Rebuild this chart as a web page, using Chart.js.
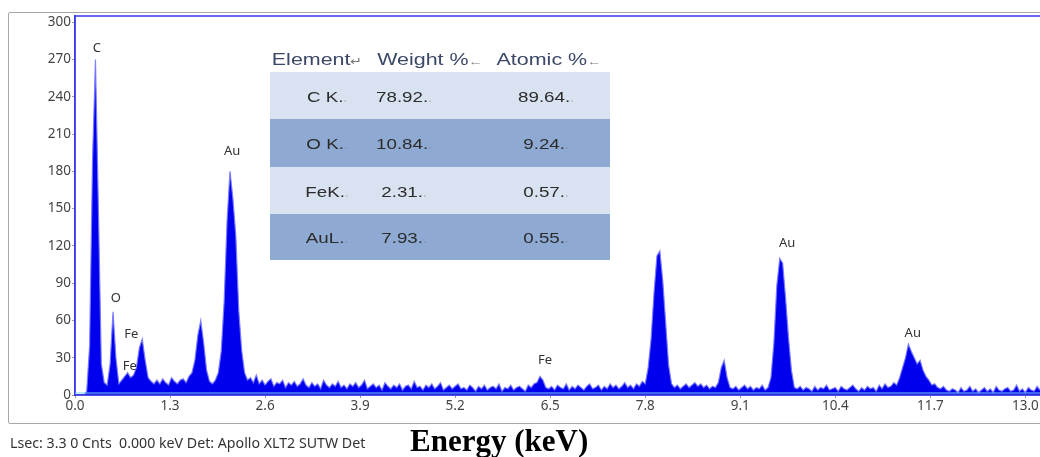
<!DOCTYPE html>
<html>
<head>
<meta charset="utf-8">
<script src="https://cdn.jsdelivr.net/npm/chart.js@4.4.1/dist/chart.umd.min.js"></script>
<style>
  body { margin: 0; background: #fff; width: 1040px; height: 457px; overflow: hidden; position: relative; }
  #frame { position: absolute; left: 8px; top: 12px; width: 1100px; height: 410px; border: 1px solid #a8a8a8; border-radius: 2px; }
  #spectrum { position: absolute; left: 0; top: 0; }
  .head { position: absolute; top: 50px; height: 22px; line-height: 22px; font: 16.5px "Liberation Sans", Arial, sans-serif; color: #3b4868; white-space: nowrap; transform: translateX(-50%) scaleX(1.3); }
  .row { position: absolute; left: 270px; width: 340px; }
  .cell { position: absolute; top: 50%; font: 15px "Liberation Sans", Arial, sans-serif; color: #2b2b2b; white-space: nowrap; transform: translate(-50%, -50%) scaleX(1.25); }
  .mark { font-size: 9px; color: #777; }
  .hmark { font-size: 11px; color: #777; }
  #status { position: absolute; left: 10px; top: 433px; font: 14.2px "Noto Sans", sans-serif; color: #333; white-space: pre; }
  #axisTitle { position: absolute; left: 410px; top: 423px; font: bold 31px "Liberation Serif", "Times New Roman", serif; color: #000; white-space: nowrap; }
</style>
</head>
<body>
<div id="frame"></div>
<canvas id="spectrum" width="1040" height="457"></canvas>
<div id="table"></div>
<div id="status">Lsec: 3.3 0 Cnts  0.000 keV Det: Apollo XLT2 SUTW Det</div>
<div id="axisTitle">Energy (keV)</div>
<script>
// EDS spectrum, one count value per 0.04 keV channel starting at 0 keV
const ENERGY_STEP_KEV = 0.04;
const COUNTS = [
  0, 0, 0, 0, 3, 40, 190, 270, 150, 25,
  10, 8, 25, 67, 30, 9, 12, 15, 18, 14,
  16, 22, 38, 45, 28, 14, 11, 9, 12, 9,
  13, 10, 8, 14, 11, 9, 12, 13, 10, 15,
  18, 28, 48, 60, 42, 20, 11, 9, 12, 18,
  35, 75, 140, 180, 158, 128, 68, 36, 18, 12,
  14, 10, 16, 9, 12, 8, 11, 13, 7, 10,
  9, 12, 6, 10, 8, 11, 7, 9, 13, 8,
  6, 10, 7, 9, 5, 12, 8, 6, 9, 7,
  11, 6, 8, 5, 9, 7, 10, 6, 8, 12,
  5, 7, 9, 6, 8, 4, 10, 7, 5, 8,
  6, 9, 4, 7, 8, 5, 11, 6, 7, 4,
  8, 6, 9, 5, 7, 10, 4, 6, 8, 5,
  7, 9, 5, 6, 4, 8, 6, 3, 7, 5,
  8, 4, 6, 7, 5, 9, 3, 6, 5, 8,
  4, 6, 7, 5, 3, 8, 6, 9, 10, 15,
  12, 6, 5, 7, 4, 8, 6, 5, 9, 4,
  7, 5, 8, 6, 4, 7, 9, 5, 6, 8,
  4, 7, 5, 9, 6, 8, 5, 7, 10, 6,
  8, 5, 9, 7, 11, 9, 22, 45, 82, 112,
  116, 92, 58, 24, 9, 6, 8, 5, 7, 9,
  6, 8, 10, 7, 9, 6, 8, 5, 7, 6,
  10, 22, 28, 14, 6, 5, 7, 4, 6, 8,
  5, 7, 4, 6, 5, 8, 4, 6, 14, 42,
  88, 110, 106, 78, 46, 20, 6, 5, 7, 4,
  6, 5, 3, 7, 4, 6, 5, 8, 4, 5,
  6, 3, 7, 5, 4, 6, 8, 5, 3, 6,
  4, 7, 5, 6, 3, 8, 5, 9, 6, 7,
  10, 8, 14, 22, 30, 41, 35, 30, 25, 28,
  20, 15, 12, 8, 9, 6, 5, 7, 4, 3,
  5, 4, 2, 6, 3, 4, 7, 3, 5, 2,
  4, 6, 3, 5, 2, 7, 4, 3, 5, 6,
  3, 4, 8, 3, 5, 2, 6, 4, 3, 7,
  4,
];

const X_TICKS = [0.0, 1.3, 2.6, 3.9, 5.2, 6.5, 7.8, 9.1, 10.4, 11.7, 13.0];
const Y_TICKS = [0, 30, 60, 90, 120, 150, 180, 210, 240, 270, 300];

// peak annotations: element, energy (keV), counts where the label sits
const PEAK_NAMES = ["C", "O", "Fe", "Fe", "Au", "Fe", "Au", "Au"];
const PEAK_KEV = [0.30, 0.56, 0.77, 0.75, 2.15, 6.43, 9.74, 11.46];
const PEAK_LABEL_COUNTS = [279, 78, 49, 23, 196, 28, 122, 50];

// quantification table
const TABLE_HEAD = ["Element", "Weight %", "Atomic %"];
const ELEMENTS = ["C K.", "O K.", "FeK.", "AuL."];
const WEIGHT_PCT = ["78.92.", "10.84.", "2.31.", "7.93."];
const ATOMIC_PCT = ["89.64.", "9.24.", "0.57.", "0.55."];

function buildTable() {
  const table = document.getElementById("table");
  const headCenters = [317, 430, 549];
  TABLE_HEAD.forEach((h, i) => {
    const el = document.createElement("div");
    el.className = "head";
    el.style.left = headCenters[i] + "px";
    el.innerHTML = h + '<span class="hmark">' + (i === 0 ? "\u21B5" : "\u2190") + "</span>";
    table.appendChild(el);
  });

  const rowTops = [72, 119, 167, 214];
  const rowHeights = [47, 48, 47, 46];
  const rowColors = ["#d8e2f0", "#8eaad2", "#d8e2f0", "#8eaad2"];
  const cellCenters = [327, 404, 546];
  ELEMENTS.forEach((name, r) => {
    const row = document.createElement("div");
    row.className = "row";
    row.style.top = rowTops[r] + "px";
    row.style.height = rowHeights[r] + "px";
    row.style.background = rowColors[r];
    [name, WEIGHT_PCT[r], ATOMIC_PCT[r]].forEach((txt, c) => {
      const cell = document.createElement("div");
      cell.className = "cell";
      cell.style.left = (cellCenters[c] - 270) + "px";
      cell.innerHTML = txt + '<span class="mark">\u02D2</span>';
      row.appendChild(cell);
    });
    table.appendChild(row);
  });
}

const plotFrame = {
  id: "plotFrame",
  afterDatasetsDraw(chart) {
    const { ctx, chartArea } = chart;
    ctx.save();
    ctx.strokeStyle = "#3a3ae8";
    ctx.lineWidth = 1.5;
    ctx.strokeRect(chartArea.left, chartArea.top, chartArea.right - chartArea.left + 5, chartArea.bottom - chartArea.top);
    ctx.strokeStyle = "#7fd0f0";
    ctx.lineWidth = 1;
    ctx.beginPath();
    ctx.moveTo(chartArea.left, chartArea.bottom - 2);
    ctx.lineTo(chartArea.right, chartArea.bottom - 2);
    ctx.stroke();
    ctx.restore();
  },
};

const peakLabels = {
  id: "peakLabels",
  afterDatasetsDraw(chart) {
    const { ctx, scales } = chart;
    ctx.save();
    ctx.font = '13px "Noto Sans", sans-serif';
    ctx.fillStyle = "#333";
    ctx.textAlign = "center";
    ctx.textBaseline = "middle";
    PEAK_NAMES.forEach((name, i) => {
      ctx.fillText(name, scales.x.getPixelForValue(PEAK_KEV[i]), scales.y.getPixelForValue(PEAK_LABEL_COUNTS[i]));
    });
    ctx.restore();
  },
};

function drawSpectrum() {
  const points = COUNTS.map((c, i) => ({ x: i * ENERGY_STEP_KEV, y: c }));
  const tickFont = { family: '"Noto Sans", sans-serif', size: 13.5 };

  new Chart(document.getElementById("spectrum").getContext("2d"), {
    type: "line",
    data: {
      datasets: [
        {
          data: points,
          fill: "origin",
          backgroundColor: "#0000ee",
          borderColor: "rgba(120,120,255,0.9)",
          borderWidth: 1.2,
          pointRadius: 0,
          tension: 0,
        },
      ],
    },
    options: {
      responsive: false,
      animation: false,
      layout: { padding: { top: 16, right: 0, bottom: 0, left: 0 } },
      plugins: { legend: { display: false }, tooltip: { enabled: false } },
      scales: {
        x: {
          type: "linear",
          min: 0,
          max: 13.2,
          afterBuildTicks: (axis) => {
            axis.ticks = X_TICKS.map((v) => ({ value: v }));
          },
          afterFit: (axis) => {
            axis.height = 62;
          },
          ticks: {
            callback: (v) => v.toFixed(1),
            font: tickFont,
            color: "#444",
            padding: 0,
            maxRotation: 0,
            autoSkip: false,
          },
          grid: { drawOnChartArea: false, drawTicks: true, tickLength: 3, color: "#999" },
          border: { color: "#3a3ae8", width: 1.5 },
        },
        y: {
          min: 0,
          max: 305,
          afterBuildTicks: (axis) => {
            axis.ticks = Y_TICKS.map((v) => ({ value: v }));
          },
          afterFit: (axis) => {
            axis.width = 75;
          },
          ticks: { font: tickFont, color: "#444", padding: 1 },
          grid: { drawOnChartArea: false, drawTicks: true, tickLength: 3, color: "#999" },
          border: { color: "#3a3ae8", width: 1.5 },
        },
      },
    },
    plugins: [plotFrame, peakLabels],
  });
}

buildTable();
drawSpectrum();
</script>
</body>
</html>
